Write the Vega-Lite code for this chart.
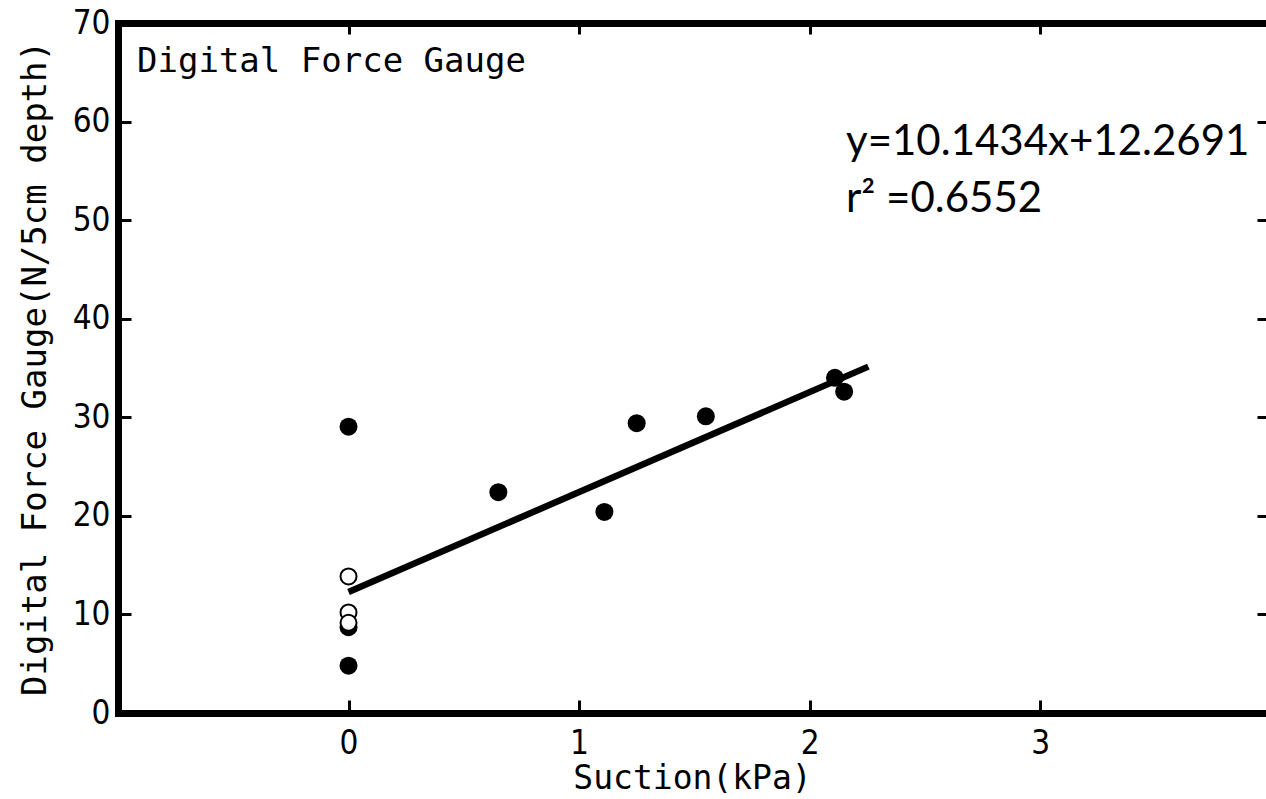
{
  "$schema": "https://vega.github.io/schema/vega-lite/v6.json",
  "width": 1148,
  "height": 690,
  "autosize": {"type": "none"},
  "padding": {"left": 118, "top": 23, "right": 0, "bottom": 86},
  "background": "white",
  "config": {
    "view": {"stroke": null},
    "axis": {
      "grid": false,
      "domainColor": "black",
      "tickColor": "black",
      "labelColor": "black",
      "titleColor": "black",
      "domainWidth": 7,
      "domainCap": "square",
      "tickWidth": 3,
      "tickSize": -13,
      "labelFont": "Liberation Sans Narrow, DejaVu Sans Condensed, sans-serif",
      "labelFontSize": 33,
      "titleFont": "DejaVu Sans Mono",
      "titleFontWeight": "normal"
    }
  },
  "datasets": {
    "points": [
      {"suction": 0, "force": 29.05, "marker": "filled"},
      {"suction": 0, "force": 4.8, "marker": "filled"},
      {"suction": 0, "force": 8.7, "marker": "filled"},
      {"suction": 0.65, "force": 22.4, "marker": "filled"},
      {"suction": 1.11, "force": 20.4, "marker": "filled"},
      {"suction": 1.25, "force": 29.4, "marker": "filled"},
      {"suction": 1.55, "force": 30.1, "marker": "filled"},
      {"suction": 2.11, "force": 34.0, "marker": "filled"},
      {"suction": 2.15, "force": 32.6, "marker": "filled"},
      {"suction": 0, "force": 13.85, "marker": "open"},
      {"suction": 0, "force": 10.2, "marker": "open"},
      {"suction": 0, "force": 9.15, "marker": "open"}
    ],
    "fit": [
      {"suction": 0, "force": 12.27},
      {"suction": 2.255, "force": 35.14}
    ],
    "equation": [
      {"suction": 2.158, "force": 56.61, "label": "y=10.1434x+12.2691"},
      {"suction": 2.158, "force": 50.83, "label": "r² =0.6552"}
    ],
    "panel": [
      {"suction": -0.9175, "force": 65.03, "label": "Digital Force Gauge"}
    ]
  },
  "layer": [
    {
      "data": {"name": "fit"},
      "mark": {"type": "line", "color": "black", "strokeWidth": 6.5, "strokeCap": "butt"},
      "encoding": {
        "x": {
          "field": "suction", "type": "quantitative",
          "scale": {"domain": [-1, 3.98], "nice": false, "zero": false},
          "axis": {
            "orient": "bottom",
            "values": [0, 1, 2, 3],
            "labelPadding": 27,
            "title": "Suction(kPa)",
            "titleFontSize": 33,
            "titleY": 75,
            "titleBaseline": "alphabetic"
          }
        },
        "y": {
          "field": "force", "type": "quantitative",
          "scale": {"domain": [0, 70], "nice": false, "zero": false},
          "axis": {
            "orient": "left",
            "values": [0, 10, 20, 30, 40, 50, 60, 70],
            "labelPadding": 21,
            "title": "Digital Force Gauge(N/5cm depth)",
            "titleFontSize": 34,
            "titleAngle": 270,
            "titleX": -73,
            "titleBaseline": "alphabetic"
          }
        }
      }
    },
    {
      "data": {"name": "points"},
      "transform": [{"filter": "datum.marker == 'filled'"}],
      "mark": {"type": "point", "shape": "circle", "filled": true, "color": "black", "size": 324, "opacity": 1, "strokeWidth": 0},
      "encoding": {
        "x": {
          "field": "suction", "type": "quantitative",
          "axis": {"orient": "top", "values": [0, 1, 2, 3], "labels": false, "title": null, "tickSize": -11}
        },
        "y": {
          "field": "force", "type": "quantitative",
          "axis": {"orient": "right", "values": [10, 20, 30, 40, 50, 60], "labels": false, "title": null, "domain": false, "tickSize": -9}
        }
      }
    },
    {
      "data": {"name": "points"},
      "transform": [{"filter": "datum.marker == 'open'"}],
      "mark": {"type": "point", "shape": "circle", "filled": true, "fill": "white", "stroke": "black", "strokeWidth": 2, "size": 256, "opacity": 1},
      "encoding": {
        "x": {"field": "suction", "type": "quantitative", "axis": null},
        "y": {"field": "force", "type": "quantitative", "axis": null}
      }
    },
    {
      "data": {"name": "equation"},
      "mark": {"type": "text", "font": "Lato", "fontSize": 42, "align": "left", "baseline": "alphabetic", "color": "black"},
      "encoding": {
        "x": {"field": "suction", "type": "quantitative", "axis": null},
        "y": {"field": "force", "type": "quantitative", "axis": null},
        "text": {"field": "label"}
      }
    },
    {
      "data": {"name": "panel"},
      "mark": {"type": "text", "font": "DejaVu Sans Mono", "fontSize": 34, "align": "left", "baseline": "alphabetic", "color": "black"},
      "encoding": {
        "x": {"field": "suction", "type": "quantitative", "axis": null},
        "y": {"field": "force", "type": "quantitative", "axis": null},
        "text": {"field": "label"}
      }
    }
  ],
  "resolve": {"axis": {"x": "independent", "y": "independent"}}
}
